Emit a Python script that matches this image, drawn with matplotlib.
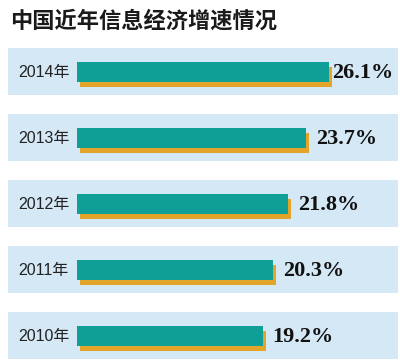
import matplotlib
matplotlib.use('Agg')
import matplotlib.pyplot as plt

plt.rcParams['font.family'] = ['Noto Sans CJK SC', 'DejaVu Sans']

title = '中国近年信息经济增速情况'
years = ['2014年', '2013年', '2012年', '2011年', '2010年']
growth = [26.1, 23.7, 21.8, 20.3, 19.2]

W, H = 400, 362
x0_px = 77.0        # pixel where 0% sits
scale = 9.67        # pixels per percentage point
row_px = 66.0       # distance between rows
first_px = 71.5     # centre of first row

teal = '#0f9f96'
orange = '#e2a52a'
band = '#d5e8f5'

fig = plt.figure(figsize=(W / 100, H / 100), dpi=100)
ax = fig.add_axes([0, 0, 1, 1])
ax.set_xlim(-x0_px / scale, (W - x0_px) / scale)
ax.set_ylim((H - first_px) / row_px, -first_px / row_px)
ax.axis('off')

px = 1.0 / scale     # one pixel in x data units
py = 1.0 / row_px    # one pixel in y data units

for i, (yr, v) in enumerate(zip(years, growth)):
    # background band
    ax.axhspan(i - 23.5 * py, i + 23.5 * py, xmin=8 / W, xmax=398 / W,
               color=band, lw=0, zorder=0)
    # shadow bar
    ax.barh(i + 5 * py, v, left=3 * px, height=20 * py, color=orange,
            lw=0, zorder=1)
    # main bar
    ax.barh(i, v, height=20 * py, color=teal, lw=0, zorder=2)
    ax.text(-x0_px / scale + 18 * px, i + 1 * py, yr, ha='left', va='center',
            fontsize=11.5, color='#222222',
            family=['Liberation Sans', 'Noto Sans CJK SC'], zorder=3)
    lx = min(v + 10 * px, (W - x0_px - 68) / scale)
    ax.text(lx, i + 2 * py, '%.1f%%' % v, ha='left', va='center',
            fontsize=16, fontweight='bold', color='#111111',
            family='Liberation Serif', zorder=3)

fig.text(10 / W, 1 - 21 / H, title, ha='left', va='center', fontsize=16,
         fontweight='bold', color='#1a1a1a')

fig.savefig('out.png', dpi=100, facecolor='white')
